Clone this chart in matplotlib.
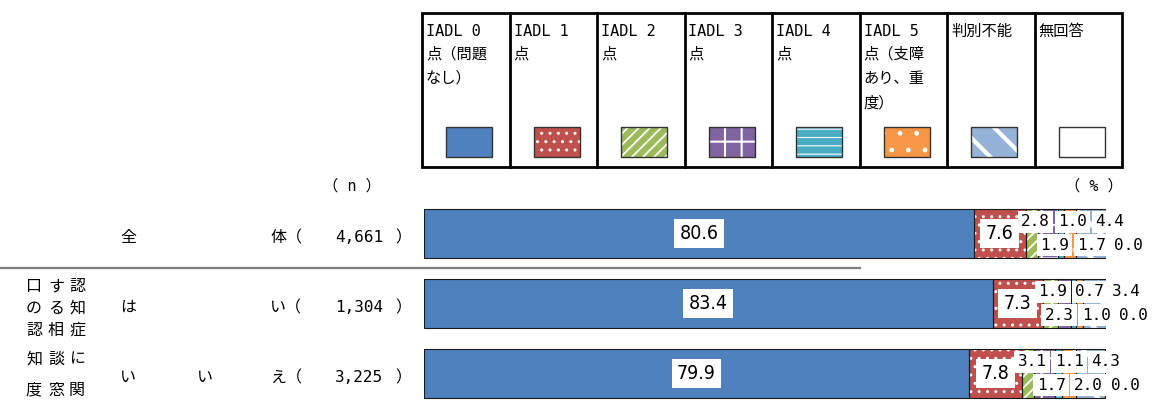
import matplotlib
matplotlib.use("Agg")
import matplotlib.pyplot as plt
from matplotlib.patches import Rectangle
from matplotlib import font_manager as fm
import numpy as np

plt.rcParams['font.family'] = ['Noto Sans CJK JP', 'DejaVu Sans']
plt.rcParams['hatch.linewidth'] = 1.5

# ---------------- data ----------------
series = ["IADL 0\n点（問題\nなし）", "IADL 1\n点", "IADL 2\n点", "IADL 3\n点",
          "IADL 4\n点", "IADL 5\n点（支障\nあり、重\n度）", "判別不能", "無回答"]
row_n = [4661, 1304, 3225]
row_all = [80.6, 7.6, 1.9, 2.8, 1.0, 1.7, 4.4, 0.0]
row_yes = [83.4, 7.3, 2.3, 1.9, 0.7, 1.0, 3.4, 0.0]
row_no = [79.9, 7.8, 1.7, 3.1, 1.1, 2.0, 4.3, 0.0]
values = np.array([row_all, row_yes, row_no])

# styles
colors = ['#4F81BD', '#C0504D', '#9BBB59', '#8064A2', '#4BACC6', '#F79646', '#95B3D7', '#FFFFFF']
hatches = [None, '..', '///', '+', '--', '.', '\\', None]
hatch_lw = [1, 1, 1.3, 1.5, 0.8, 1.0, 3.0, 1]
small_pos = {2: 'bottom', 3: 'top', 4: 'top', 5: 'bottom', 6: 'top', 7: 'bottom'}

names = {f.name for f in fm.fontManager.ttflist}
if 'Liberation Sans Narrow' in names:
    big_num = dict(family=['Liberation Sans Narrow', 'DejaVu Sans'], fontsize=16)
else:
    big_num = dict(family=['DejaVu Sans'], fontstretch='condensed', fontsize=14)
mono = ['DejaVu Sans Mono', 'Noto Sans CJK JP']

W, H = 1158, 401
fig = plt.figure(figsize=(W / 100, H / 100), dpi=100)

# overlay axes in pixel coordinates for table/text
ov = fig.add_axes([0, 0, 1, 1])
ov.set_xlim(0, W)
ov.set_ylim(H, 0)
ov.axis('off')

# bar axes
x0, x1 = 424, 1106
ytop = 198.5
step = 70.0
ax = fig.add_axes([x0 / W, 0, (x1 - x0) / W, (H - ytop) / H])
ax.set_xlim(0, 100)
ax.set_ylim(-0.5 + (H - ytop) / step, -0.5)
ax.axis('off')

def set_hlw(p, lw):
    if hasattr(p, 'set_hatch_linewidth'):
        p.set_hatch_linewidth(lw)

ypos = np.arange(len(values))
bh = 0.7
left = np.zeros(len(values))
for i in range(len(series)):
    w = values[:, i]
    ax.barh(ypos, w, left=left, height=bh, color=colors[i], linewidth=0, zorder=2)
    if hatches[i]:
        bars = ax.barh(ypos, w, left=left, height=bh, color='none', edgecolor='white',
                       hatch=hatches[i], linewidth=0, zorder=3)
        for p in bars.patches:
            set_hlw(p, hatch_lw[i])
    ax.barh(ypos, w, left=left, height=bh, color='none', edgecolor='#1a1a1a',
            linewidth=0.8, zorder=4)
    left = left + w

# value labels
box_big = dict(boxstyle='square,pad=0.28', facecolor='white', edgecolor='none')
box_small = dict(boxstyle='square,pad=0.22', facecolor='white', edgecolor='none')
px = (x1 - x0) / 100.0
for r in range(len(values)):
    cum = np.concatenate([[0], np.cumsum(values[r])])
    for i in (0, 1):
        ax.text((cum[i] + cum[i + 1]) / 2, r, f"{values[r, i]:.1f}", ha='center', va='center',
                bbox=box_big, zorder=6, **big_num)
    red_end = cum[2]
    sp = 37 / px
    maxc = (1133 - x0) / px
    for row, off in (('top', 10 / px), ('bottom', 29 / px)):
        idx = [i for i in range(2, 8) if small_pos[i] == row]
        first = red_end + off
        last = first + sp * (len(idx) - 1)
        if last > maxc:
            first = first - (last - maxc)
        dy = -0.165 if row == 'top' else 0.165
        for k, i in enumerate(idx):
            ax.text(first + k * sp, r + dy, f"{values[r, i]:.1f}", ha='center', va='center',
                    fontsize=11.5, family=mono, bbox=box_small, zorder=6, clip_on=False)

# ---------------- legend table ----------------
tl, tw, tt, tb = 422.0, 87.5, 13.0, 167.0
ncol = len(series)
ov.add_patch(Rectangle((tl, tt), tw * ncol, tb - tt, facecolor='none', edgecolor='black', lw=2.0))
for k in range(1, ncol):
    ov.plot([tl + k * tw, tl + k * tw], [tt, tb], color='black', lw=2.0)
line_y = [31, 54, 78, 103]
for k, name in enumerate(series):
    for j, line in enumerate(name.split('\n')):
        ov.text(tl + k * tw + 4, line_y[j], line, ha='left', va='center', fontsize=11, family=mono)
    sx = tl + k * tw + 24
    sy = 127
    ov.add_patch(Rectangle((sx, sy), 46, 30, facecolor=colors[k], edgecolor='none', lw=0))
    if hatches[k]:
        p = Rectangle((sx, sy), 46, 30, facecolor='none', edgecolor='white', hatch=hatches[k], lw=0)
        set_hlw(p, hatch_lw[k])
        ov.add_patch(p)
    ov.add_patch(Rectangle((sx, sy), 46, 30, facecolor='none', edgecolor='#333333', lw=1.0))

# ---------------- left labels ----------------
ov.text(352, 186, "（ n ）", ha='center', va='center', fontsize=11, family=mono)
ov.text(1094, 186, "（ % ）", ha='center', va='center', fontsize=11, family=mono)

row_c = [ytop + step * (r + 0.5) + 4 for r in range(3)]
first_chars = [("全", None, "体（"), ("は", None, "い（"), ("い", "い", "え（")]
for r, (a, b, c) in enumerate(first_chars):
    y = row_c[r]
    ov.text(128, y, a, ha='center', va='center', fontsize=11.5)
    if b:
        ov.text(205, y, b, ha='center', va='center', fontsize=11.5)
    ov.text(270, y, c, ha='left', va='center', fontsize=11.5)
    ov.text(383, y, f"{row_n[r]:,}", ha='right', va='center', fontsize=11.5, family=mono)
    ov.text(403, y, "）", ha='center', va='center', fontsize=11.5)

# vertical group title: 認知症に関する相談窓口の認知度
title = "認知症に関する相談窓口の認知度"
cols_x = [77, 56, 34]
rows_y = [287, 308, 330, 359, 390]
for ci in range(3):
    for ri in range(5):
        ov.text(cols_x[ci], rows_y[ri], title[ci * 5 + ri], ha='center', va='center', fontsize=11.5)

# separator
ov.plot([0, 860], [268, 268], color='#808080', lw=1.6)

fig.savefig("out.png", dpi=100)
